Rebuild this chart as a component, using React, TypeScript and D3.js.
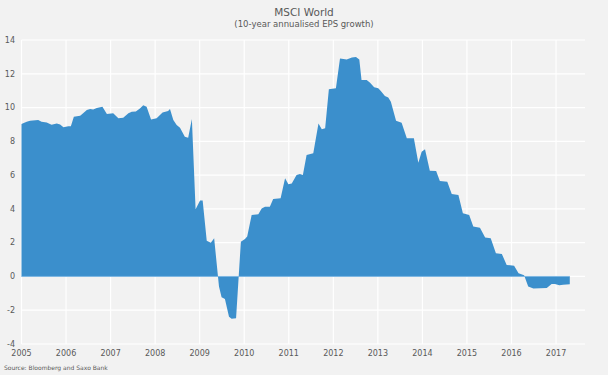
import React, { useEffect } from "react";
import * as d3 from "d3";

// months since Jan 2005
const months = [
  0, 1.4, 2.3, 4.5, 5.4, 6.8, 8.1, 9.5, 10.4, 11.3, 12.6, 13.3, 14.1, 15.8, 16.6, 17.6, 18.5, 19.3, 20.3, 21.8,
  23.0, 24.7, 26.1, 27.4, 28.8, 29.7, 30.8, 31.9, 32.8, 33.7, 34.9, 36.4, 38.0, 39.5, 40.0, 40.9, 41.8, 42.7,
  44.0, 44.9, 45.9, 46.9, 48.1, 48.8, 49.9, 51.0, 51.9, 53.2, 53.9, 54.8, 55.9, 56.6, 57.8, 59.1, 60.2, 60.8,
  62.0, 63.8, 64.7, 65.6, 66.9, 67.8, 69.8, 71.0, 71.9, 72.8, 74.1, 75.0, 75.8, 76.8, 78.6, 80.0, 80.9, 81.8,
  82.8, 84.7, 85.8, 87.6, 89.0, 90.1, 91.0, 91.6, 93.0, 93.9, 95.0, 96.1, 96.8, 97.9, 98.8, 99.5, 100.9, 102.4,
  103.8, 105.7, 106.9, 107.8, 108.7, 110.0, 111.7, 112.7, 114.7, 115.9, 117.7, 118.9, 120.6, 121.7, 123.5,
  124.9, 126.4, 127.8, 129.4, 130.7, 132.7, 133.9, 135.4, 136.5, 137.9, 139.7, 141.5, 142.8, 143.7, 144.9,
  145.9, 147.7,
];
const values = [
  9.02, 9.16, 9.22, 9.26, 9.16, 9.12, 8.98, 9.06, 9.0, 8.83, 8.9, 8.9, 9.46, 9.52, 9.66, 9.85, 9.91, 9.89, 9.97, 10.05,
  9.62, 9.66, 9.36, 9.4, 9.66, 9.75, 9.77, 9.95, 10.13, 10.05, 9.3, 9.36, 9.7, 9.79, 9.91, 9.26, 8.96, 8.8,
  8.27, 8.21, 9.32, 3.98, 4.49, 4.49, 2.12, 2.0, 2.26, -0.6, -1.23, -1.33, -2.38, -2.5, -2.48, 2.06, 2.22, 2.36,
  3.64, 3.68, 4.03, 4.13, 4.13, 4.59, 4.63, 5.81, 5.46, 5.51, 6.0, 6.07, 6.0, 7.19, 7.29, 9.06, 8.71, 8.77,
  11.09, 11.14, 12.91, 12.85, 12.97, 13.0, 12.85, 11.63, 11.63, 11.47, 11.2, 11.14, 10.98, 10.68, 10.6, 10.34, 9.22, 9.1,
  8.18, 8.18, 6.73, 7.39, 7.53, 6.26, 6.24, 5.65, 5.61, 4.88, 4.82, 3.74, 3.64, 2.95, 2.89,
  2.3, 2.26, 1.37, 1.33, 0.68, 0.64, 0.19, 0.07, -0.6, -0.72, -0.7, -0.68, -0.44, -0.44, -0.52,
  -0.49, -0.46,
];
const years = [2005, 2006, 2007, 2008, 2009, 2010, 2011, 2012, 2013, 2014, 2015, 2016, 2017];
const yTicks = [-4, -2, 0, 2, 4, 6, 8, 10, 12, 14];
const title = "MSCI World";
const subtitle = "(10-year annualised EPS growth)";
const source = "Source: Bloomberg and Saxo Bank";

export default function App() {
  useEffect(() => {
    document.body.style.margin = "0";
  }, []);
  const W = 608, H = 375;
  const left = 21.5, right = 585, top = 40, bottom = 344;
  const x = d3.scaleLinear().domain([0, 151.8]).range([left, right]);
  const y = d3.scaleLinear().domain([-4, 14]).range([bottom, top]);
  const data = months.map((m, i) => ({ m, v: values[i] }));
  const area = d3
    .area<{ m: number; v: number }>()
    .x((d) => x(d.m))
    .y0(y(0))
    .y1((d) => y(d.v));
  const font = "'DejaVu Sans', Verdana, sans-serif";
  const txt = "#595959";
  return (
    <svg width={W} height={H} style={{ position: "absolute", left: 0, top: 0, display: "block" }}>
      <rect x={0} y={0} width={W} height={H} fill="#f2f2f2" />
      {yTicks.map((t) => (
        <line key={"h" + t} x1={left} x2={right} y1={y(t)} y2={y(t)} stroke="#ffffff" strokeWidth={1.2} />
      ))}
      {years.map((yr, i) => (
        <line key={"v" + yr} x1={x(i * 12)} x2={x(i * 12)} y1={top} y2={bottom} stroke="#ffffff" strokeWidth={1.2} />
      ))}
      <path d={area(data) || ""} fill="#3b8fcc" />
      <line x1={x(months[0])} x2={x(months[months.length - 1])} y1={y(0)} y2={y(0)} stroke="#7db6e2" strokeWidth={1} />
      {yTicks.map((t) => (
        <text key={"yt" + t} x={15} y={y(t)} dy="0.35em" textAnchor="end" fontFamily={font} fontSize={8} fill={txt}>
          {t}
        </text>
      ))}
      {years.map((yr, i) => (
        <text key={"xt" + yr} x={x(i * 12)} y={356} textAnchor="middle" fontFamily={font} fontSize={8} fill={txt}>
          {yr}
        </text>
      ))}
      <text x={304} y={16} textAnchor="middle" fontFamily={font} fontSize={10.5} fill={txt}>
        {title}
      </text>
      <text x={304} y={27} textAnchor="middle" fontFamily={font} fontSize={8.5} fill={txt}>
        {subtitle}
      </text>
      <text x={4} y={370} fontFamily={font} fontSize={6} fill={txt}>
        {source}
      </text>
    </svg>
  );
}
